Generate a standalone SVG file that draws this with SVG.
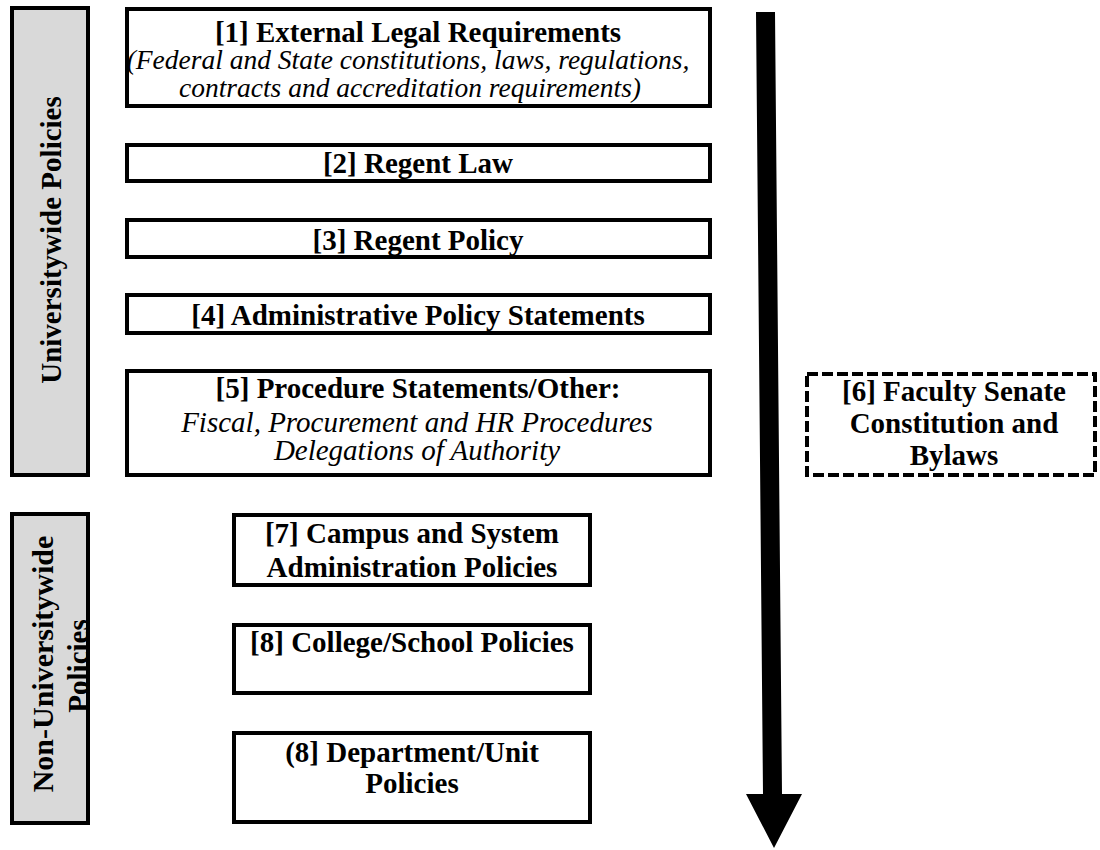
<svg xmlns="http://www.w3.org/2000/svg" width="1100" height="850" viewBox="0 0 1100 850">
  <style>
    .box { fill: #ffffff; stroke: #000000; stroke-width: 4; }
    .dash { fill: #ffffff; stroke: #000000; stroke-width: 4; stroke-dasharray: 11 4; }
    .bar { fill: #d9d9d9; stroke: #000000; stroke-width: 4; }
    .t { font-family: "Liberation Serif", "Times New Roman", serif; font-size: 29px; font-weight: bold; fill: #000000; text-anchor: middle; }
    .i { font-family: "Liberation Serif", "Times New Roman", serif; font-size: 29px; font-style: italic; fill: #000000; text-anchor: middle; }
    .small { font-size: 27.5px; }
    .side { font-size: 30px; }
  </style>

  <rect width="1100" height="850" fill="#ffffff"/>

  <!-- side category bars -->
  <g id="universitywide">
    <rect class="bar" x="12" y="8" width="76" height="467"/>
    <text class="t" transform="translate(61,240) rotate(-90)">Universitywide Policies</text>
  </g>
  <g id="non-universitywide">
    <rect class="bar" x="12" y="514" width="76" height="309"/>
    <text class="t side" transform="translate(53,664) rotate(-90)">Non-Universitywide</text>
    <text class="t" transform="translate(88,666) rotate(-90)">Policies</text>
  </g>

  <!-- precedence arrow -->
  <g id="connectors">
    <polygon points="756,12 775,12 782,794 802,794 774,848 746,794 763,794" fill="#000000"/>
  </g>

  <!-- universitywide policy levels -->
  <g id="n1">
    <rect class="box" x="127" y="9" width="583" height="97"/>
    <text class="t" x="418" y="42">[1] External Legal Requirements</text>
    <text class="i small" x="408" y="69">(Federal and State constitutions, laws, regulations,</text>
    <text class="i small" x="410" y="97">contracts and accreditation requirements)</text>
  </g>
  <g id="n2">
    <rect class="box" x="127" y="145" width="583" height="36"/>
    <text class="t" x="418" y="173">[2] Regent Law</text>
  </g>
  <g id="n3">
    <rect class="box" x="127" y="220" width="583" height="37"/>
    <text class="t" x="418" y="250">[3] Regent Policy</text>
  </g>
  <g id="n4">
    <rect class="box" x="127" y="295" width="583" height="38"/>
    <text class="t" x="418" y="325">[4] Administrative Policy Statements</text>
  </g>
  <g id="n5">
    <rect class="box" x="127" y="371" width="583" height="104"/>
    <text class="t" x="418" y="398">[5] Procedure Statements/Other:</text>
    <text class="i" x="417" y="432">Fiscal, Procurement and HR Procedures</text>
    <text class="i" x="417" y="460">Delegations of Authority</text>
  </g>
  <g id="n6">
    <rect class="dash" x="807" y="374" width="288" height="101"/>
    <text class="t" x="954" y="401">[6] Faculty Senate</text>
    <text class="t" x="954" y="433">Constitution and</text>
    <text class="t" x="954" y="465">Bylaws</text>
  </g>

  <!-- non-universitywide policy levels -->
  <g id="n7">
    <rect class="box" x="234" y="515" width="356" height="70"/>
    <text class="t" x="412" y="543">[7] Campus and System</text>
    <text class="t" x="412" y="577">Administration Policies</text>
  </g>
  <g id="n8">
    <rect class="box" x="234" y="625" width="356" height="68"/>
    <text class="t" x="412" y="652">[8] College/School Policies</text>
  </g>
  <g id="n9">
    <rect class="box" x="234" y="733" width="356" height="89"/>
    <text class="t" x="412" y="762">(8] Department/Unit</text>
    <text class="t" x="412" y="793">Policies</text>
  </g>
</svg>
